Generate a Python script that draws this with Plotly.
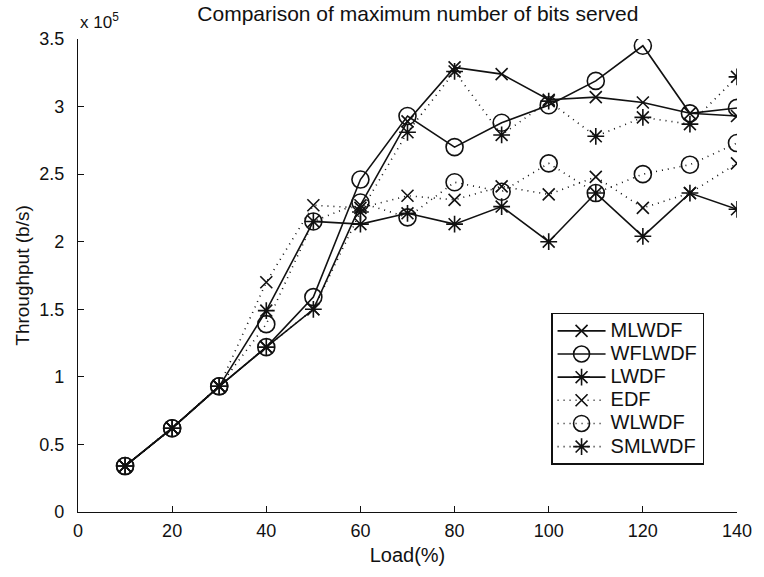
import plotly.graph_objects as go

# Offered load (%) on the x axis
load = [10, 20, 30, 40, 50, 60, 70, 80, 90, 100, 110, 120, 130, 140]

# Throughput per scheduler, in units of 10^5 b/s
mlwdf = [0.34, 0.62, 0.93, 1.22, 1.50, 2.27, 2.89, 3.29, 3.24, 3.05, 3.07, 3.03, 2.95, 2.93]
wflwdf = [0.34, 0.62, 0.93, 1.22, 1.59, 2.46, 2.93, 2.70, 2.88, 3.01, 3.19, 3.45, 2.95, 2.99]
lwdf = [0.34, 0.62, 0.93, 1.49, 2.15, 2.13, 2.21, 2.13, 2.26, 2.00, 2.36, 2.04, 2.36, 2.24]
edf = [0.34, 0.62, 0.93, 1.70, 2.27, 2.25, 2.34, 2.31, 2.41, 2.35, 2.48, 2.25, 2.36, 2.58]
wlwdf = [0.34, 0.62, 0.93, 1.39, 2.15, 2.29, 2.18, 2.44, 2.37, 2.58, 2.36, 2.50, 2.57, 2.73]
smlwdf = [0.34, 0.62, 0.93, 1.22, 1.50, 2.22, 2.81, 3.26, 2.79, 3.04, 2.78, 2.92, 2.87, 3.22]

x_ticks = [0, 20, 40, 60, 80, 100, 120, 140]
y_ticks = [0, 0.5, 1, 1.5, 2, 2.5, 3, 3.5]
y_tick_text = ["0", "0.5", "1", "1.5", "2", "2.5", "3", "3.5"]

FONT = "Liberation Sans, Arial, Helvetica, sans-serif"
INK = "#111111"

series = [
    ("MLWDF", mlwdf, "solid", "x-thin-open", 12),
    ("WFLWDF", wflwdf, "solid", "circle-open", 17),
    ("LWDF", lwdf, "solid", "asterisk-open", 14),
    ("EDF", edf, "1px,5px", "x-thin-open", 12),
    ("WLWDF", wlwdf, "1px,5px", "circle-open", 17),
    ("SMLWDF", smlwdf, "1px,5px", "asterisk-open", 14),
]

fig = go.Figure()
for name, values, dash, symbol, size in series:
    fig.add_trace(go.Scatter(
        x=load, y=values, mode="lines+markers",
        # legend rows are spaced by the small legend font; the label itself is drawn larger
        name=f'<span style="font-size:20px">{name}</span>',
        line=dict(color=INK, width=1.6, dash=dash),
        marker=dict(symbol=symbol, size=size, color=INK,
                    line=dict(color=INK, width=1.6)),
    ))

axis_common = dict(
    showline=True, linecolor=INK, linewidth=1.4,
    ticks="inside", ticklen=6, tickwidth=1.4, tickcolor=INK,
    showgrid=False, zeroline=False, mirror=False,
    tickfont=dict(family=FONT, size=18, color=INK),
)

fig.update_layout(
    width=764, height=577,
    margin=dict(l=78, r=18, t=39, b=65),
    paper_bgcolor="white", plot_bgcolor="white",
    font=dict(family=FONT, color=INK),
    title=dict(text="Comparison of maximum number of bits served",
               x=0.547, xanchor="center", y=0.977, yanchor="middle",
               font=dict(family=FONT, size=21, color=INK)),
    xaxis=dict(range=[0, 140], tickvals=x_ticks,
               title=dict(text="Load(%)", font=dict(family=FONT, size=20, color=INK), standoff=8),
               ticklabelstandoff=2,
               **axis_common),
    yaxis=dict(range=[0, 3.5], tickvals=y_ticks, ticktext=y_tick_text,
               title=dict(text="Throughput (b/s)", font=dict(family=FONT, size=19, color=INK), standoff=4),
               ticklabelstandoff=9,
               **axis_common),
    legend=dict(x=0.718, y=0.421, xanchor="left", yanchor="top",
                bgcolor="white", bordercolor=INK, borderwidth=1.4,
                font=dict(family=FONT, size=15.5, color=INK),
                tracegroupgap=0, itemwidth=48),
    showlegend=True,
)

fig.add_annotation(x=0, y=1, xref="paper", yref="paper",
                   xanchor="left", yanchor="bottom", yshift=5, showarrow=False,
                   text="x 10<sup>5</sup>", font=dict(family=FONT, size=17, color=INK))

fig.write_html("out.html")
